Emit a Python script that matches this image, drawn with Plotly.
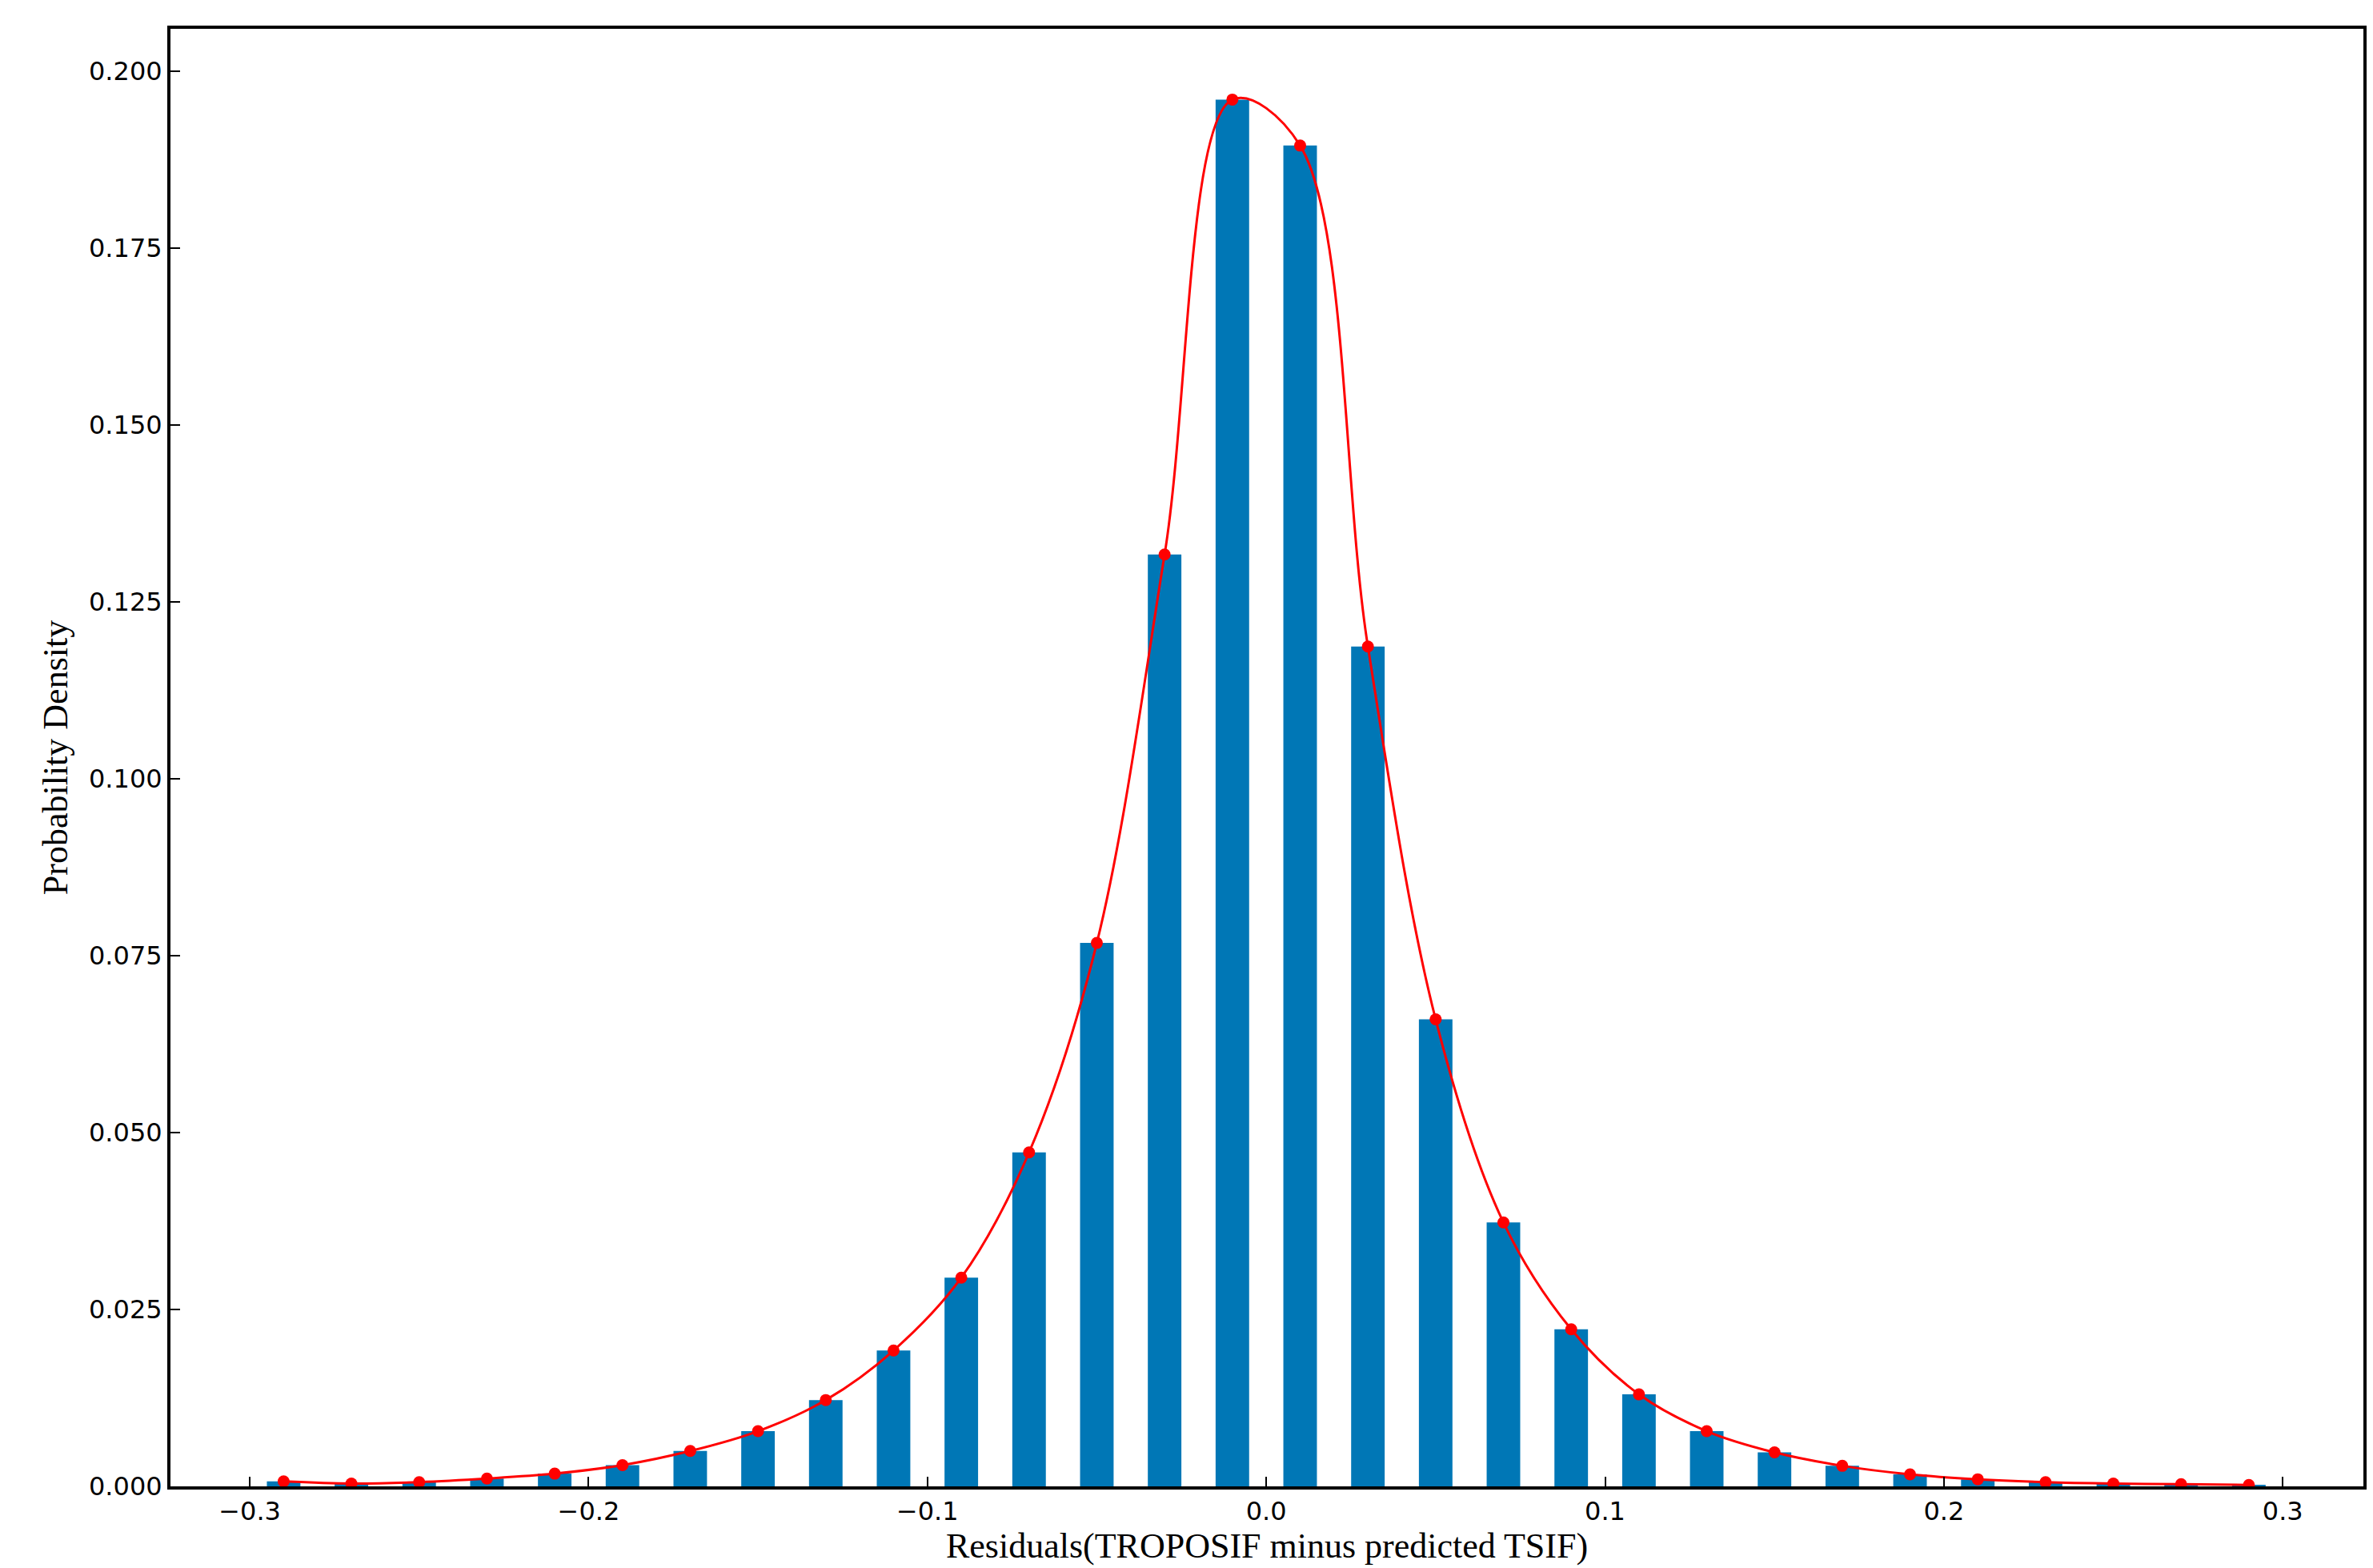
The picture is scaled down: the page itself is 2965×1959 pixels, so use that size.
import plotly.graph_objects as go

centers = [-0.29, -0.27, -0.25, -0.23, -0.21, -0.19, -0.17, -0.15, -0.13, -0.11,
           -0.09, -0.07, -0.05, -0.03, -0.01, 0.01, 0.03, 0.05, 0.07, 0.09,
           0.11, 0.13, 0.15, 0.17, 0.19, 0.21, 0.23, 0.25, 0.27, 0.29]
density = [0.0007, 0.0004, 0.0006, 0.0011, 0.0018, 0.0030, 0.0050, 0.0078, 0.0122, 0.0192,
           0.0295, 0.0472, 0.0768, 0.1317, 0.1960, 0.1895, 0.1187, 0.0660, 0.0373, 0.0222,
           0.0130, 0.0078, 0.0048, 0.0029, 0.0017, 0.0010, 0.0006, 0.0004, 0.0003, 0.0002]

fig = go.Figure()
fig.add_trace(go.Bar(x=centers, y=density, width=0.0099, marker_color="#0077b6",
                     marker_line_width=0))
fig.add_trace(go.Scatter(x=centers, y=density, mode="lines+markers",
                         line=dict(color="red", width=3, shape="spline"),
                         marker=dict(color="red", size=15)))

axis_common = dict(showline=True, linecolor="black", linewidth=4, mirror=True,
                   ticks="inside", ticklen=12, tickwidth=2, tickcolor="black",
                   showgrid=False, zeroline=False,
                   tickfont=dict(family="DejaVu Sans", size=32, color="black"))
fig.update_xaxes(range=[-0.3234, 0.3238], tickvals=[-0.3, -0.2, -0.1, 0.0, 0.1, 0.2, 0.3],
                 ticktext=["\u22120.3", "\u22120.2", "\u22120.1", "0.0", "0.1", "0.2", "0.3"],
                 title=dict(text="Residuals(TROPOSIF minus predicted TSIF)",
                            font=dict(family="Liberation Serif", size=44, color="black"),
                            standoff=8),
                 **axis_common)
fig.update_yaxes(range=[0, 0.206], tickvals=[0, 0.025, 0.05, 0.075, 0.1, 0.125, 0.15, 0.175, 0.2],
                 tickformat=".3f",
                 title=dict(text="Probability Density",
                            font=dict(family="Liberation Serif", size=44, color="black"),
                            standoff=14),
                 **axis_common)
fig.update_layout(width=2965, height=1959, showlegend=False,
                  plot_bgcolor="white", paper_bgcolor="white",
                  margin=dict(l=205, r=20, t=28, b=110))
fig.write_html("out.html")
